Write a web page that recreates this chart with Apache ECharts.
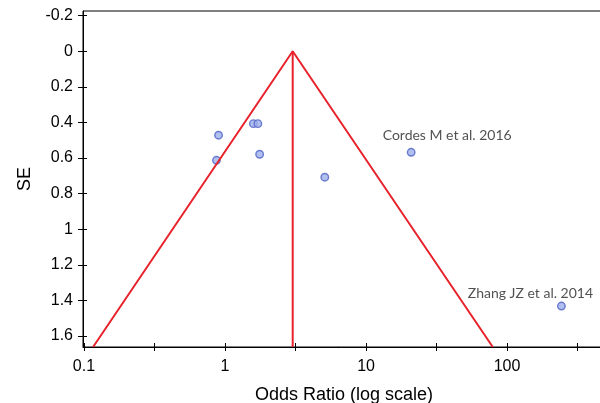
<!DOCTYPE html>
<html>
<head>
<meta charset="utf-8">
<script src="https://cdn.jsdelivr.net/npm/echarts@6/dist/echarts.min.js"></script>
<style>
  html, body { margin: 0; padding: 0; background: #fff; }
  #chart { width: 600px; height: 403px; }
</style>
</head>
<body>
<div id="chart"></div>
<script>
// Study estimates: odds ratio and its standard error
const studyNames = ['', '', '', '', '', '', 'Cordes M et al. 2016', 'Zhang JZ et al. 2014'];
const oddsRatios = [0.90, 0.87, 1.59, 1.71, 1.76, 5.1, 20.9, 243];
const standardErrors = [0.472, 0.613, 0.407, 0.407, 0.579, 0.708, 0.568, 1.432];

// Pooled estimate and pseudo 95% confidence limits at the bottom of the funnel
const pooledOR = 3.02;
const funnelBaseSE = 1.662;
const funnelLowerOR = 0.116;
const funnelUpperOR = 79.2;

// Axis ticks
const seTicks = [-0.2, 0, 0.2, 0.4, 0.6, 0.8, 1, 1.2, 1.4, 1.6];
const orTicks = [0.1, 0.3162, 1, 3.162, 10, 31.62, 100, 316.2];
const orLabels = [0.1, 1, 10, 100];

const labelOffsets = {
  'Cordes M et al. 2016': [36, -17],
  'Zhang JZ et al. 2014': [-31, -13]
};

const points = oddsRatios.map((v, i) => {
  const item = { value: [v, standardErrors[i]], name: studyNames[i] };
  if (studyNames[i]) {
    item.label = {
      show: true,
      position: 'inside',
      offset: labelOffsets[studyNames[i]],
      formatter: '{b}',
      color: '#262626',
      fontFamily: 'Lato',
      fontSize: 14
    };
  }
  return item;
});

const lineStyle = { color: '#e8222b', width: 2 };
const axisFont = { fontFamily: 'Liberation Sans', color: '#000' };

const xMin = 0.0984, xMax = 495;
const yMin = -0.226, yMax = funnelBaseSE;

const chart = echarts.init(document.getElementById('chart'), null, { renderer: 'canvas' });
chart.setOption({
  animation: false,
  grid: {
    left: 83, top: 11, width: 522, height: 336,
    outerBoundsMode: 'none', containLabel: false,
    show: true, borderColor: '#000', borderWidth: 1, backgroundColor: 'transparent'
  },
  xAxis: [{
    type: 'log', logBase: 10, min: xMin, max: xMax, position: 'bottom',
    name: 'Odds Ratio (log scale)', nameLocation: 'middle', nameGap: 39,
    nameTextStyle: Object.assign({ fontSize: 18 }, axisFont),
    axisLine: { onZero: false, lineStyle: { color: '#000', width: 1 } },
    axisTick: { show: true, length: 4, customValues: orTicks, lineStyle: { color: '#000' } },
    axisLabel: Object.assign({
      fontSize: 16, margin: 12, customValues: orLabels,
      formatter: v => String(+v.toPrecision(3))
    }, axisFont),
    minorTick: { show: false },
    splitLine: { show: false }
  }, {
    type: 'log', logBase: 10, min: xMin, max: xMax, position: 'bottom',
    axisLine: { show: false, onZero: false },
    axisTick: { show: true, inside: true, length: 4, customValues: orTicks, lineStyle: { color: '#000' } },
    axisLabel: { show: false },
    splitLine: { show: false }
  }],
  yAxis: [{
    type: 'value', inverse: true, min: yMin, max: yMax, position: 'left',
    name: 'SE', nameLocation: 'middle', nameGap: 46, nameRotate: 90,
    nameTextStyle: Object.assign({ fontSize: 18 }, axisFont),
    axisLine: { show: true, onZero: false, lineStyle: { color: '#000', width: 1 } },
    axisTick: { show: true, length: 5, customValues: seTicks, lineStyle: { color: '#000' } },
    axisLabel: Object.assign({ fontSize: 16, margin: 10, customValues: seTicks }, axisFont),
    splitLine: { show: false }
  }, {
    type: 'value', inverse: true, min: yMin, max: yMax, position: 'left',
    axisLine: { show: false, onZero: false },
    axisTick: { show: true, inside: true, length: 4, customValues: seTicks, lineStyle: { color: '#000' } },
    axisLabel: { show: false },
    splitLine: { show: false }
  }],
  series: [{
    type: 'line', xAxisIndex: 0, yAxisIndex: 0, symbol: 'none', clip: true,
    lineStyle: lineStyle,
    data: [[funnelLowerOR, funnelBaseSE], [pooledOR, 0], [funnelUpperOR, funnelBaseSE]]
  }, {
    type: 'line', xAxisIndex: 0, yAxisIndex: 0, symbol: 'none', clip: true,
    lineStyle: lineStyle,
    data: [[pooledOR, 0], [pooledOR, funnelBaseSE]]
  }, {
    type: 'scatter', xAxisIndex: 0, yAxisIndex: 0, symbol: 'circle', symbolSize: 7.5,
    itemStyle: { color: '#9fb0ec', borderColor: '#4d62c4', borderWidth: 1.4 },
    data: points
  }]
});
</script>
</body>
</html>
